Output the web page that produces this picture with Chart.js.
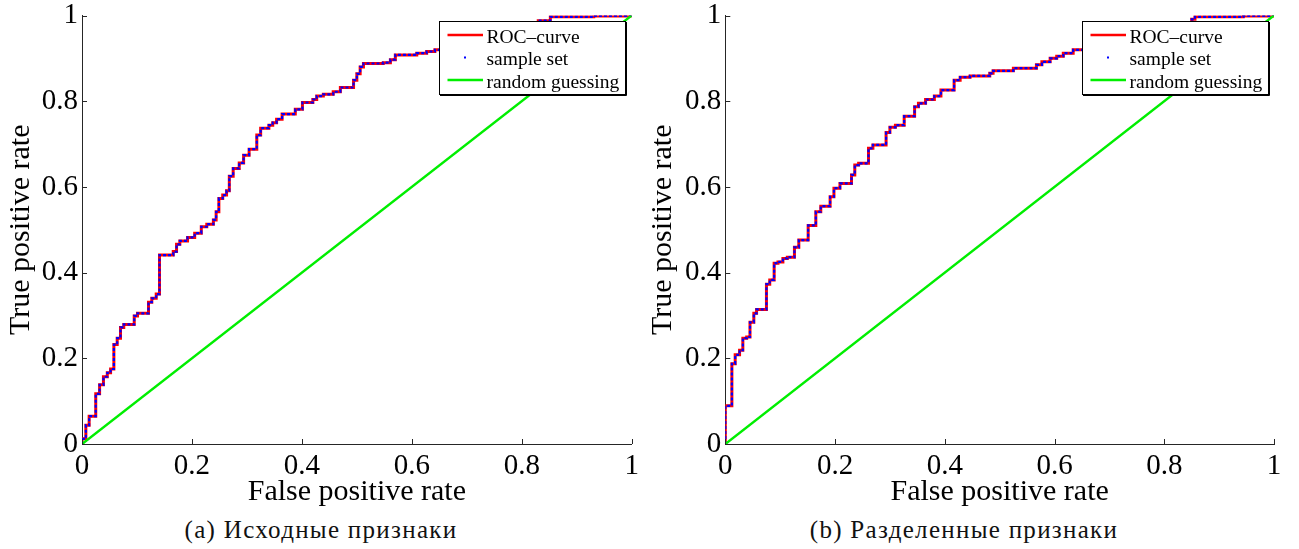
<!DOCTYPE html>
<html>
<head>
<meta charset="utf-8">
<script src="https://cdn.jsdelivr.net/npm/chart.js"></script>
<style>
  html, body { margin: 0; padding: 0; background: #fff; }
  body { width: 1299px; height: 549px; position: relative; overflow: hidden; }
  canvas { position: absolute; top: 0; }
  #chartA { left: 0; }
  #chartB { left: 642px; }
  .caption {
    position: absolute; top: 518px;
    font-family: 'Liberation Serif', serif; font-size: 25px; line-height: 24px;
    letter-spacing: 1.3px; white-space: nowrap; color: #111;
    transform: translateX(-50%);
  }
</style>
</head>
<body>
<canvas id="chartA" width="650" height="510"></canvas>
<canvas id="chartB" width="657" height="510"></canvas>
<div class="caption" style="left:321px">(a) Исходные признаки</div>
<div class="caption" style="left:964px">(b) Разделенные признаки</div>
<script>
// ROC (a): исходные признаки
const fprA = [0, 0, 0.007, 0.013, 0.025, 0.032, 0.039, 0.046, 0.052, 0.058,
  0.064, 0.070, 0.076, 0.095, 0.101, 0.121, 0.127, 0.135, 0.141, 0.166,
  0.172, 0.178, 0.192, 0.205, 0.217, 0.227, 0.239, 0.244, 0.249, 0.256,
  0.263, 0.268, 0.275, 0.286, 0.294, 0.304, 0.318, 0.325, 0.340, 0.347,
  0.354, 0.364, 0.388, 0.401, 0.420, 0.427, 0.439, 0.457, 0.470, 0.494,
  0.500, 0.506, 0.512, 0.548, 0.561, 0.570, 0.609, 0.627, 0.642, 0.680,
  0.720, 0.770, 0.810, 0.830, 0.852, 0.931, 1];
const tprA = [0, 0.012, 0.044, 0.065, 0.117, 0.138, 0.157, 0.166, 0.175, 0.232,
  0.247, 0.272, 0.279, 0.299, 0.305, 0.331, 0.340, 0.350, 0.441, 0.449,
  0.466, 0.474, 0.482, 0.492, 0.507, 0.513, 0.523, 0.542, 0.573, 0.581,
  0.591, 0.625, 0.643, 0.656, 0.674, 0.688, 0.721, 0.737, 0.744, 0.750,
  0.758, 0.770, 0.781, 0.797, 0.804, 0.812, 0.816, 0.822, 0.832, 0.849,
  0.864, 0.880, 0.888, 0.890, 0.897, 0.908, 0.912, 0.916, 0.920, 0.930,
  0.945, 0.960, 0.975, 0.988, 0.997, 0.999, 1];

// ROC (b): разделенные признаки
const fprB = [0, 0, 0.012, 0.018, 0.026, 0.032, 0.039, 0.045, 0.052, 0.057,
  0.075, 0.081, 0.089, 0.096, 0.105, 0.113, 0.126, 0.134, 0.151, 0.165,
  0.174, 0.191, 0.198, 0.209, 0.230, 0.236, 0.243, 0.261, 0.269, 0.293,
  0.300, 0.310, 0.326, 0.345, 0.352, 0.365, 0.381, 0.393, 0.417, 0.428,
  0.446, 0.482, 0.488, 0.525, 0.567, 0.577, 0.592, 0.604, 0.616, 0.634,
  0.700, 0.760, 0.820, 0.850, 0.856, 0.944, 1];
const tprB = [0, 0.089, 0.187, 0.208, 0.219, 0.247, 0.250, 0.284, 0.305, 0.314,
  0.373, 0.383, 0.422, 0.425, 0.433, 0.436, 0.459, 0.476, 0.510, 0.542,
  0.555, 0.577, 0.597, 0.608, 0.628, 0.651, 0.655, 0.690, 0.698, 0.727,
  0.739, 0.744, 0.765, 0.787, 0.795, 0.804, 0.812, 0.826, 0.849, 0.856,
  0.859, 0.865, 0.871, 0.877, 0.885, 0.892, 0.900, 0.905, 0.912, 0.920,
  0.940, 0.960, 0.980, 0.991, 0.997, 0.999, 1];

// random guessing
const diagX = [0, 1];
const diagY = [0, 1];

const tickValues = [0, 0.2, 0.4, 0.6, 0.8, 1];
const legendLabels = ['ROC\u2013curve', 'sample set', 'random guessing'];
const xTitle = 'False positive rate';
const yTitle = 'True positive rate';

const SERIF = "'Liberation Serif', 'Times New Roman', serif";
const AXIS_COLOR = '#262626';

// засечки внутрь, как в MATLAB
const inwardTicks = {
  id: 'inwardTicks',
  afterDraw(chart) {
    const { ctx, chartArea: a, scales: { x, y } } = chart;
    ctx.save();
    ctx.strokeStyle = AXIS_COLOR;
    ctx.lineWidth = 1;
    ctx.beginPath();
    x.ticks.forEach(t => {
      const px = Math.round(x.getPixelForValue(t.value)) + 0.5;
      ctx.moveTo(px, a.bottom);
      ctx.lineTo(px, a.bottom - 5);
    });
    y.ticks.forEach(t => {
      const py = Math.round(y.getPixelForValue(t.value)) + 0.5;
      ctx.moveTo(a.left, py);
      ctx.lineTo(a.left + 5, py);
    });
    ctx.stroke();
    ctx.restore();
  }
};

// легенда в рамке с белым фоном поверх кривых
const boxLegend = {
  id: 'boxLegend',
  afterDraw(chart) {
    const { ctx, chartArea: a } = chart;
    const w = 186, h = 73;
    const left = Math.round(a.right - 6.5 - w), top = Math.round(a.top + 5.5);
    ctx.save();
    ctx.fillStyle = '#fff';
    ctx.fillRect(left, top, w, h);
    ctx.strokeStyle = '#000';
    ctx.lineWidth = 1;
    ctx.strokeRect(left + 0.5, top + 0.5, w, h);
    ctx.beginPath();
    ctx.moveTo(left + w + 1.5, top + 1);
    ctx.lineTo(left + w + 1.5, top + h + 1.5);
    ctx.lineTo(left + 1, top + h + 1.5);
    ctx.stroke();

    ctx.font = '19.5px ' + SERIF;
    ctx.textBaseline = 'alphabetic';
    ctx.textAlign = 'left';
    legendLabels.forEach((label, i) => {
      const cy = top + 14 + 22.5 * i;
      if (i === 1) {
        ctx.fillStyle = '#0000ff';
        ctx.fillRect(left + 25, cy - 1, 2, 2);
      } else {
        ctx.strokeStyle = i === 0 ? '#ff0000' : '#00ee00';
        ctx.lineWidth = 2.5;
        ctx.beginPath();
        ctx.moveTo(left + 8.5, cy);
        ctx.lineTo(left + 44, cy);
        ctx.stroke();
      }
      ctx.fillStyle = '#000';
      ctx.fillText(label, left + 47.5, cy + 7.5);
    });
    ctx.restore();
  }
};

function toPoints(xs, ys) {
  return xs.map((v, i) => ({ x: v, y: ys[i] }));
}

function makeAxis(isX, width) {
  return {
    type: 'linear',
    min: 0,
    max: 1,
    afterBuildTicks: scale => { scale.ticks = tickValues.map(v => ({ value: v })); },
    afterFit: scale => {
      if (isX) scale.height = 66; else scale.width = width;
    },
    grid: { display: false, drawTicks: false },
    border: { display: true, color: AXIS_COLOR, width: 1 },
    ticks: {
      color: '#000',
      padding: 4,
      callback: v => String(v),
      font: { family: SERIF, size: 29, lineHeight: isX ? 1.28 : 0.7 }
    },
    title: {
      display: true,
      text: isX ? xTitle : yTitle,
      color: '#000',
      padding: { top: 3, bottom: 0 },
      font: { family: SERIF, size: 30, lineHeight: 1.2 }
    }
  };
}

function makeChart(id, fpr, tpr, yAxisWidth, padRight) {
  const pts = toPoints(fpr, tpr);
  return new Chart(document.getElementById(id), {
    type: 'line',
    data: {
      datasets: [
        {
          label: legendLabels[0],
          data: pts,
          stepped: 'before',
          borderColor: '#ff0000',
          borderWidth: 3,
          pointRadius: 0,
          order: 2
        },
        {
          label: legendLabels[1],
          data: pts,
          stepped: 'before',
          borderColor: '#0000ff',
          borderWidth: 2.2,
          borderDash: [3, 2],
          pointRadius: 0,
          order: 1
        },
        {
          label: legendLabels[2],
          data: toPoints(diagX, diagY),
          borderColor: '#00ee00',
          borderWidth: 2.5,
          pointRadius: 0,
          order: 0
        }
      ]
    },
    options: {
      responsive: false,
      animation: false,
      devicePixelRatio: 1,
      layout: { padding: { left: 0, top: 15.5, right: padRight, bottom: 0 } },
      plugins: { legend: { display: false }, tooltip: { enabled: false } },
      scales: {
        x: makeAxis(true),
        y: makeAxis(false, yAxisWidth)
      }
    },
    plugins: [inwardTicks, boxLegend]
  });
}

makeChart('chartA', fprA, tprA, 82, 18.3);
makeChart('chartB', fprB, tprB, 83.3, 25);
</script>
</body>
</html>
